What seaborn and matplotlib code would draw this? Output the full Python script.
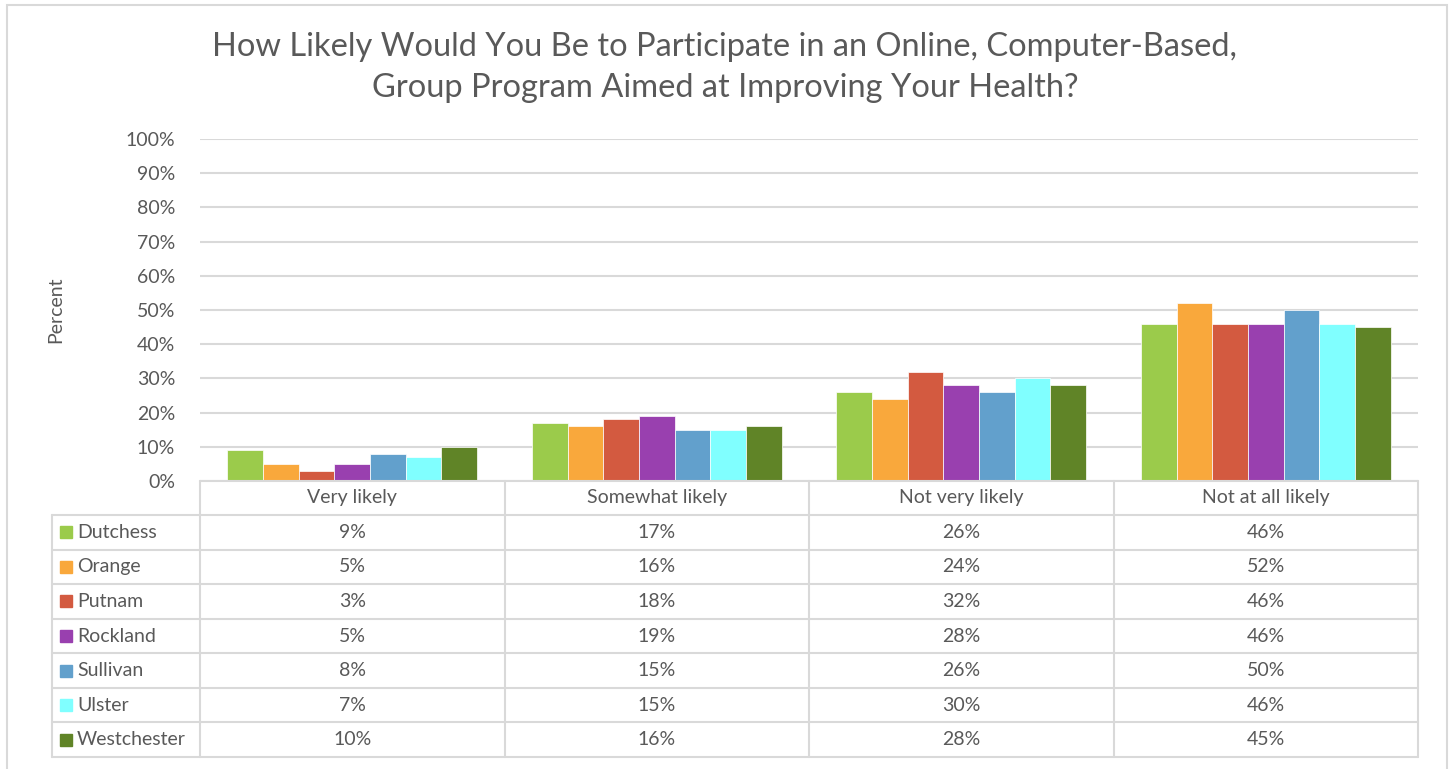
import matplotlib
matplotlib.use("Agg")
import matplotlib.pyplot as plt
import seaborn as sns
import pandas as pd
from matplotlib.patches import Rectangle

categories = ["Very likely", "Somewhat likely", "Not very likely", "Not at all likely"]
counties = ["Dutchess", "Orange", "Putnam", "Rockland", "Sullivan", "Ulster", "Westchester"]
dutchess = [9, 17, 26, 46]
orange = [5, 16, 24, 52]
putnam = [3, 18, 32, 46]
rockland = [5, 19, 28, 46]
sullivan = [8, 15, 26, 50]
ulster = [7, 15, 30, 46]
westchester = [10, 16, 28, 45]
colors = ["#9BCB4B", "#F9A83C", "#D35A40", "#9940AF", "#62A0CC", "#80FFFF", "#608427"]
yticks = [0, 10, 20, 30, 40, 50, 60, 70, 80, 90, 100]
title_lines = ["How Likely Would You Be to Participate in an Online, Computer-Based,",
               "Group Program Aimed at Improving Your Health?"]

series = [dutchess, orange, putnam, rockland, sullivan, ulster, westchester]
rows = []
for name, vals in zip(counties, series):
    for c, v in zip(categories, vals):
        rows.append({"County": name, "Category": c, "Value": v})
df = pd.DataFrame(rows)

sns.set_theme(style="white")
plt.rcParams['font.family'] = ['Lato', 'DejaVu Sans']
TXT = "#595959"
GRID = "#D9D9D9"

W, H = 1453, 769
fig = plt.figure(figsize=(W / 100, H / 100), dpi=100)

def fx(px):
    return px / W

def fy(py):
    return 1 - py / H

# outer border
fig.add_artist(Rectangle((fx(7), fy(790)), fx(1447) - fx(7), fy(5) - fy(790),
                         transform=fig.transFigure, fill=False, edgecolor=GRID, lw=1.5))

L, R, T, B = 200, 1418, 139, 481
ax = fig.add_axes([fx(L), fy(B), fx(R) - fx(L), fy(T) - fy(B)])
sns.barplot(data=df, x="Category", y="Value", hue="County", order=categories,
            hue_order=counties, palette=colors, width=0.82, gap=0, ax=ax,
            legend=False, saturation=1, edgecolor="white", linewidth=0.5, errorbar=None)
ax.set_ylim(0, 100)
ax.set_xlim(-0.5, len(categories) - 0.5)
ax.set_yticks(yticks)
ax.set_yticklabels([f"{t}%" for t in yticks], color=TXT, fontsize=14)
ax.set_xticks([])
ax.set_xlabel("")
ax.set_ylabel("")
ax.tick_params(axis="y", length=0, pad=18)
for s in ax.spines.values():
    s.set_visible(False)
ax.yaxis.grid(True, color=GRID, lw=1.5)
ax.set_axisbelow(True)

fig.text(fx(56), fy(310), "Percent", rotation=90, ha="center", va="center", fontsize=14, color=TXT)
fig.text(fx(725), fy(47), title_lines[0], ha="center", va="center", fontsize=23.5, color=TXT)
fig.text(fx(725), fy(88), title_lines[1], ha="center", va="center", fontsize=23.5, color=TXT)

# data table
tax = fig.add_axes([0, 0, 1, 1])
tax.set_xlim(0, W)
tax.set_ylim(H, 0)
tax.axis("off")
ncat = len(categories)
colw = (R - L) / ncat
col_edges = [L + i * colw for i in range(ncat + 1)]
header_top, header_bot = B, 515
row_h = (757 - header_bot) / len(counties)
row_edges = [header_bot + i * row_h for i in range(len(counties) + 1)]
tl = 52
tax.plot([L, R], [header_top, header_top], color=GRID, lw=1.5)
for y in row_edges:
    tax.plot([tl, R], [y, y], color=GRID, lw=1.5)
for x in col_edges:
    tax.plot([x, x], [header_top, row_edges[-1]], color=GRID, lw=1.5)
tax.plot([tl, tl], [header_bot, row_edges[-1]], color=GRID, lw=1.5)
for i, c in enumerate(categories):
    tax.text((col_edges[i] + col_edges[i + 1]) / 2, (header_top + header_bot) / 2, c,
             ha="center", va="center", fontsize=14, color=TXT)
for r, (name, vals, col) in enumerate(zip(counties, series, colors)):
    yc = (row_edges[r] + row_edges[r + 1]) / 2
    tax.add_patch(Rectangle((60, yc - 6), 12, 12, color=col))
    tax.text(77, yc, name, ha="left", va="center", fontsize=14, color=TXT)
    for i, v in enumerate(vals):
        tax.text((col_edges[i] + col_edges[i + 1]) / 2, yc, f"{v}%",
                 ha="center", va="center", fontsize=14, color=TXT)

fig.savefig("out.png", dpi=100)
